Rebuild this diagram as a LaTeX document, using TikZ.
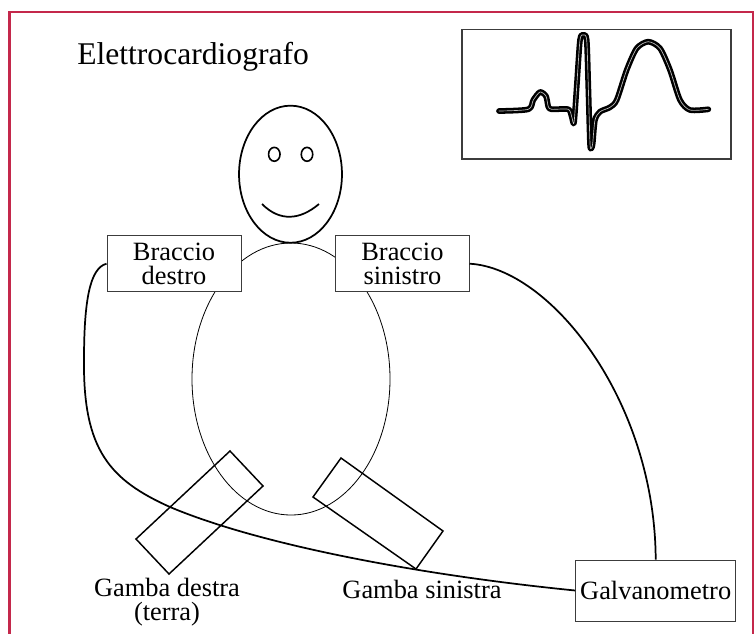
\documentclass[tikz,border=0pt]{standalone}
\usepackage{fontspec}
\setmainfont{Liberation Serif}
\definecolor{framered}{RGB}{196,40,75}
\definecolor{boxline}{RGB}{60,60,60}
\tikzset{
  lead/.style={draw, fill=white, draw=boxline, line width=0.7pt, inner sep=0pt,
    align=center, font=\fontsize{19.8}{18}\selectfont},
  caption/.style={align=center, font=\fontsize{19.8}{18}\selectfont, inner sep=0pt},
  wire/.style={line width=1.3pt, black},
  limb/.style={line width=1.1pt, black, line join=miter},
  trace/.style={line width=1.9pt, double=gray!50, double distance=0.5pt, line join=round, line cap=round}
}
\begin{document}
\begin{tikzpicture}[x=0.75pt, y=-0.75pt]
\useasboundingbox (0,0) rectangle (756,633);
% outer frame
\draw[framered, line width=2.2pt] (9.5,12) rectangle (753,650);
% title
\node[anchor=base west, inner sep=0pt, font=\fontsize{23.7}{28}\selectfont] (title) at (77,64) {Elettrocardiografo};
% ECG display
\draw[boxline, line width=1.3pt] (462,29.5) rectangle (731,159);
\draw[trace] plot[smooth, tension=0.45] coordinates {
  (499,111) (528.3,109.3) (533.3,100) (540,92) (546,96.2) (548.3,106.7)
  (551.7,109.3) (568.3,109.3) (571.7,116.7) (574,122.7) (576.7,86.7)
  (580,40) (583.3,35) (586.7,40) (588.3,86.7) (590,143.3) (591.3,148.3)
  (592.7,143.3) (595,120) (600,111.7) (610,107.3) (616.7,100) (626.7,70)
  (636.7,48.3) (648.3,41.7) (660,48.3) (670,70) (680,100) (690,110) (708.3,109.3)};
% body and head
\draw[line width=0.6pt] (291,379) ellipse [x radius=74.25pt, y radius=102pt];
\draw[line width=1.3pt] (290.5,174.2) ellipse [x radius=38.6pt, y radius=51.4pt];
\draw[line width=1.2pt] (274.3,154.3) ellipse [x radius=4.3pt, y radius=5.2pt];
\draw[line width=1.2pt] (307,154.3) ellipse [x radius=4.3pt, y radius=5.2pt];
\draw[line width=1.3pt] (262,204) .. controls (280,222) and (300,220) .. (319,204);
% legs
\draw[limb] (230,451) -- (263,486) -- (169,574) -- (136,539) -- cycle;
\draw[limb] (341,458) -- (443,531) -- (416,569) -- (313,497) -- cycle;
% electrodes and galvanometer
\node[lead, minimum width=100.5pt, minimum height=42pt] (bd) at (174,263.7) {Braccio\\destro};
\node[lead, minimum width=100pt, minimum height=42pt] (bs) at (402.4,263.7) {Braccio\\sinistro};
\node[lead, minimum width=120pt, minimum height=45.75pt] (galv) at (655.7,590.5) {Galvanometro};
% leg labels
\node[caption, anchor=base] (gd) at (167,620.7) {Gamba destra\\(terra)};
\node[caption, anchor=base] (gs) at (422,598) {Gamba sinistra};
% lead wires
\draw[wire] (bd.west) .. controls (90,268) and (84,300) .. (84,360)
  .. controls (83,450) and (110,480) .. (170,507)
  .. controls (260,545) and (420,575) .. (galv.west);
\draw[wire] (bs.east) .. controls (550,268) and (655,400) .. (galv.north);
\end{tikzpicture}
\end{document}
